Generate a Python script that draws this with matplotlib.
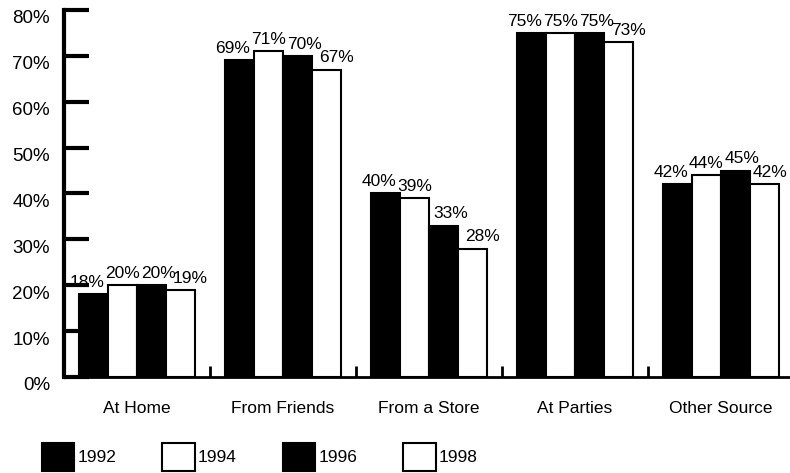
import matplotlib.pyplot as plt
import matplotlib.transforms as mtrans
from matplotlib.patches import Patch
import numpy as np

categories = ['At Home', 'From Friends', 'From a Store', 'At Parties', 'Other Source']
years = ['1992', '1994', '1996', '1998']
v1992 = [18, 69, 40, 75, 42]
v1994 = [20, 71, 39, 75, 44]
v1996 = [20, 70, 33, 75, 45]
v1998 = [19, 67, 28, 73, 42]
series = [v1992, v1994, v1996, v1998]
fills = ['black', 'white', 'black', 'white']
yticks = [0, 10, 20, 30, 40, 50, 60, 70, 80]

# labels in the original are spread sideways so they don't collide
nudge = [-4.5, 0, 5, 7]

plt.rcParams['font.family'] = ['Liberation Sans', 'DejaVu Sans']

fig = plt.figure(figsize=(7.9, 4.73), dpi=100)
ax = fig.add_axes([64/790, 1 - 377/473, 730/790, 367/473])

x = np.arange(len(categories))
w = 0.2
for i, vals in enumerate(series):
    xs = x + (i - 1.5) * w
    ax.bar(xs, vals, w, color=fills[i], edgecolor='black', linewidth=1.5, zorder=2)
    for j, (xi, v) in enumerate(zip(xs, vals)):
        dx = nudge[i]
        if j == len(vals) - 1 and i == len(series) - 1:
            dx = 4  # keep the last one inside the figure
        ax.annotate(f'{v}%', (xi, v), xytext=(dx, 3), textcoords='offset points',
                    ha='center', va='bottom', fontsize=12.5)

ax.set_xlim(-0.5, len(categories) - 0.5)
ax.set_ylim(0, 80)

# y axis: thick inward ticks, labels nudged down a bit
ax.set_yticks(yticks)
ax.set_yticklabels([f'{t}%' for t in yticks], fontsize=13.5)
ax.tick_params(axis='y', direction='in', length=18, width=3, pad=10)
off = mtrans.ScaledTranslation(0, -5/72, fig.dpi_scale_trans)
for lab in ax.get_yticklabels():
    lab.set_transform(lab.get_transform() + off)

# x axis: category names, small dividers between groups
ax.set_xticks(x)
ax.set_xticklabels(categories, fontsize=12.5)
ax.tick_params(axis='x', which='major', length=0, pad=17)
ax.set_xticks(x[:-1] + 0.5, minor=True)
ax.tick_params(axis='x', which='minor', direction='in', length=8, width=2)

ax.spines['left'].set_linewidth(3)
ax.spines['bottom'].set_linewidth(2)
ax.spines['top'].set_visible(False)
ax.spines['right'].set_visible(False)

handles = [Patch(facecolor=f, edgecolor='black', linewidth=1.5) for f in fills]
fig.legend(handles, years, loc='lower left', bbox_to_anchor=(42/790, 2/473),
           ncol=4, frameon=False, borderpad=0, borderaxespad=0,
           handlelength=1.85, handleheight=2.1, handletextpad=0.2,
           columnspacing=2.65, fontsize=12.5)

fig.savefig('out.png', dpi=100)
